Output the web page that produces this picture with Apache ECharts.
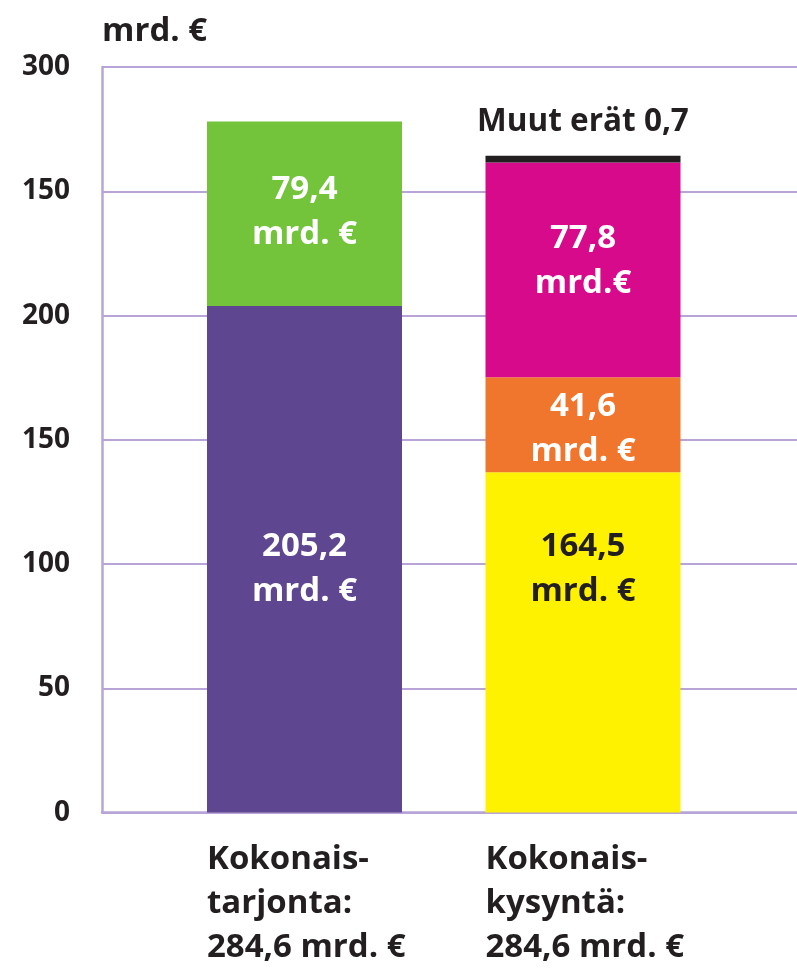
<!DOCTYPE html>
<html><head><meta charset="utf-8">
<script src="https://cdn.jsdelivr.net/npm/echarts@6/dist/echarts.min.js"></script>
<style>html,body{margin:0;padding:0;background:#fff}#c{width:797px;height:973px}</style>
</head><body><div id="c"></div>
<script>
// Categories (x-axis labels)
const categories = ['Kokonais-\ntarjonta:\n284,6 mrd. €', 'Kokonais-\nkysyntä:\n284,6 mrd. €'];
// Y tick labels as printed in the original (the 250 tick reads "150")
const yTickLabels = ['0', '50', '100', '150', '200', '150', '300'];
// Segment heights as drawn in the picture
const bktValues = [203.8, '-'];
const tuontiValues = [74.3, '-'];
const kulutusValues = ['-', 136.9];
const investoinnitValues = ['-', 38.3];
const vientiValues = ['-', 86.4];
const muutValues = ['-', 2.7];
// Segment label texts
const bktLabel = '205,2\nmrd. €';
const tuontiLabel = '79,4\nmrd. €';
const kulutusLabel = '164,5\nmrd. €';
const investoinnitLabel = '41,6\nmrd. €';
const vientiLabel = '77,8\nmrd.€';
const muutLabel = 'Muut erät 0,7';
const unitLabel = 'mrd. €';

const FONT = 'Open Sans';
const GRID = '#b8a4d6';
const INK = '#231f20';

const chart = echarts.init(document.getElementById('c'), null, {renderer: 'canvas'});

function inBarLabel(text, color, dy) {
  return {
    show: true, position: 'inside', formatter: text, color: color,
    fontFamily: FONT, fontWeight: 700, fontSize: 33, lineHeight: 45,
    offset: [0, dy]
  };
}

function seg(name, data, color, label) {
  return {
    name: name, type: 'bar', stack: 'total', xAxisIndex: 1, yAxisIndex: 1,
    barWidth: 195, data: data, itemStyle: {color: color}, label: label,
    emphasis: {disabled: true}, animation: false
  };
}

const option = {
  animation: false,
  grid: [
    {left: 102, right: 0, top: 67, bottom: 160.4, containLabel: false},
    {left: 165.25, width: 557, top: 67, bottom: 160.4, containLabel: false}
  ],
  xAxis: [
    {gridIndex: 0, type: 'category', data: ['', ''],
     axisLine: {show: true, lineStyle: {color: GRID, width: 2.5}},
     axisTick: {show: false}, axisLabel: {show: false}, splitLine: {show: false}},
    {gridIndex: 1, type: 'category', data: categories,
     axisLine: {show: false}, axisTick: {show: false}, splitLine: {show: false},
     axisLabel: {
       show: true, margin: 25, width: 195, overflow: 'none', interval: 0,
       formatter: function (v) { return v.split('\n').map(s => '{a|' + s + '}').join('\n'); },
       rich: {a: {align: 'left', fontFamily: FONT, fontWeight: 700, fontSize: 33, lineHeight: 44, color: INK}}
     }}
  ],
  yAxis: [
    {gridIndex: 0, type: 'value', min: 0, max: 300, interval: 50,
     name: unitLabel, nameLocation: 'end', nameGap: 19,
     nameTextStyle: {align: 'left', fontFamily: FONT, fontWeight: 700, fontSize: 33, color: INK},
     axisLine: {show: true, lineStyle: {color: GRID, width: 2.5}},
     axisTick: {show: false},
     axisLabel: {margin: 32, fontFamily: FONT, fontWeight: 700, fontSize: 28, color: INK,
       formatter: function (v) { return yTickLabels[Math.round(v / 50)]; }},
     splitLine: {show: true, lineStyle: {color: GRID, width: 2}}},
    {gridIndex: 1, type: 'value', min: 0, max: 300, interval: 50, show: false,
     splitLine: {show: false}}
  ],
  series: [
    seg('Bruttokansantuote', bktValues, '#5e4690', inBarLabel(bktLabel, '#ffffff', 10)),
    seg('Tuonti', tuontiValues, '#74c43b', inBarLabel(tuontiLabel, '#ffffff', -2)),
    seg('Kulutus', kulutusValues, '#fff200', inBarLabel(kulutusLabel, INK, -73)),
    seg('Investoinnit', investoinnitValues, '#f1762d', inBarLabel(investoinnitLabel, '#ffffff', 4)),
    seg('Vienti', vientiValues, '#d60a8a', inBarLabel(vientiLabel, '#ffffff', -9)),
    seg('Muut erät', muutValues, INK, {
      show: true, position: 'top', distance: 18, formatter: muutLabel,
      fontFamily: FONT, fontWeight: 700, fontSize: 31.5, color: INK
    })
  ]
};
chart.setOption(option);
</script>
</body></html>
